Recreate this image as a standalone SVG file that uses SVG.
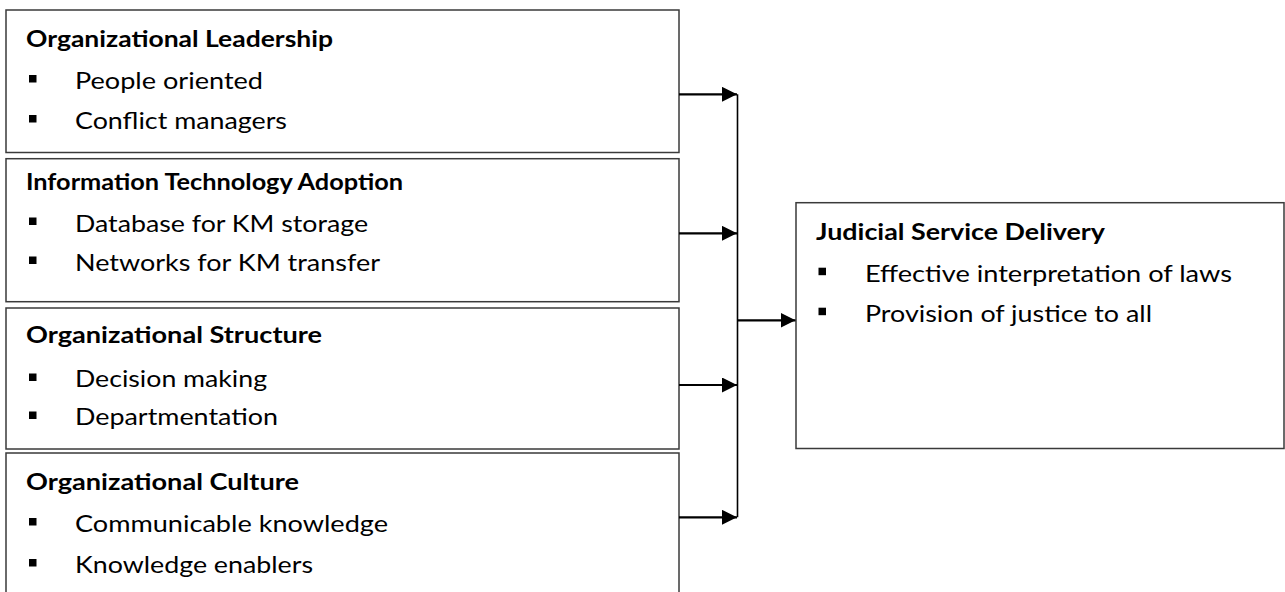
<svg xmlns="http://www.w3.org/2000/svg" width="1285" height="592" viewBox="0 0 1285 592">
<defs>
<style>
.box{fill:#fff;stroke:#3a3a3a;stroke-width:1.5}
.t{font-family:Lato,"Open Sans","Liberation Sans",sans-serif;font-size:22.5px;fill:#000}
.h{font-weight:bold}
.b{fill:#000}
.c{stroke:#000;fill:none}
</style>
<marker id="ah" markerWidth="15" markerHeight="15" refX="15" refY="7.5" orient="auto" markerUnits="userSpaceOnUse">
<path d="M0,0 L15,7.5 L0,15 Z" fill="#000"/>
</marker>
</defs>
<rect width="1285" height="592" fill="#fff"/>
<g id="n1">
<rect class="box" x="6" y="10" width="673" height="142.5"/>
<text class="t h" x="26" y="47" textLength="307" lengthAdjust="spacingAndGlyphs">Organizational Leadership</text>
<rect class="b" x="29" y="75" width="7.5" height="7.5"/>
<text class="t" x="75" y="89" textLength="188" lengthAdjust="spacingAndGlyphs">People oriented</text>
<rect class="b" x="29" y="115" width="7.5" height="7.5"/>
<text class="t" x="75" y="129" textLength="212" lengthAdjust="spacingAndGlyphs">Conflict managers</text>
</g>
<g id="n2">
<rect class="box" x="6" y="158.7" width="673" height="143"/>
<text class="t h" x="26" y="189.5" textLength="377" lengthAdjust="spacingAndGlyphs">Information Technology Adoption</text>
<rect class="b" x="29" y="217.5" width="7.5" height="7.5"/>
<text class="t" x="75" y="231.5" textLength="293" lengthAdjust="spacingAndGlyphs">Database for KM storage</text>
<rect class="b" x="29" y="256.5" width="7.5" height="7.5"/>
<text class="t" x="75" y="270.5" textLength="305" lengthAdjust="spacingAndGlyphs">Networks for KM transfer</text>
</g>
<g id="n3">
<rect class="box" x="6" y="308" width="673" height="141"/>
<text class="t h" x="26" y="343" textLength="296" lengthAdjust="spacingAndGlyphs">Organizational Structure</text>
<rect class="b" x="29" y="373.5" width="7.5" height="7.5"/>
<text class="t" x="75" y="387" textLength="192" lengthAdjust="spacingAndGlyphs">Decision making</text>
<rect class="b" x="29" y="411.5" width="7.5" height="7.5"/>
<text class="t" x="75" y="425" textLength="203" lengthAdjust="spacingAndGlyphs">Departmentation</text>
</g>
<g id="n4">
<rect class="box" x="6" y="453" width="673" height="150"/>
<text class="t h" x="26" y="490" textLength="273" lengthAdjust="spacingAndGlyphs">Organizational Culture</text>
<rect class="b" x="29" y="518" width="7.5" height="7.5"/>
<text class="t" x="75" y="532" textLength="313" lengthAdjust="spacingAndGlyphs">Communicable knowledge</text>
<rect class="b" x="29" y="559" width="7.5" height="7.5"/>
<text class="t" x="75" y="573" textLength="238" lengthAdjust="spacingAndGlyphs">Knowledge enablers</text>
</g>
<g id="n5">
<rect class="box" x="796" y="202.7" width="488" height="245.8"/>
<text class="t h" x="816" y="240" textLength="289" lengthAdjust="spacingAndGlyphs">Judicial Service Delivery</text>
<rect class="b" x="818.5" y="267.7" width="7.5" height="7.5"/>
<text class="t" x="865" y="281.7" textLength="367" lengthAdjust="spacingAndGlyphs">Effective interpretation of laws</text>
<rect class="b" x="818.5" y="307.7" width="7.5" height="7.5"/>
<text class="t" x="865" y="321.7" textLength="287" lengthAdjust="spacingAndGlyphs">Provision of justice to all</text>
</g>
<g id="connectors">
<line class="c" x1="737.5" y1="94.3" x2="737.5" y2="517.3" stroke-width="1.6"/>
<line class="c" x1="679" y1="94.3" x2="737" y2="94.3" stroke-width="2.2" marker-end="url(#ah)"/>
<line class="c" x1="679" y1="233.3" x2="737" y2="233.3" stroke-width="2.2" marker-end="url(#ah)"/>
<line class="c" x1="679" y1="385" x2="737" y2="385" stroke-width="2.2" marker-end="url(#ah)"/>
<line class="c" x1="679" y1="517.3" x2="737" y2="517.3" stroke-width="2.2" marker-end="url(#ah)"/>
<line class="c" x1="737.5" y1="320.3" x2="795.5" y2="320.3" stroke-width="2.2" marker-end="url(#ah)"/>
</g>
</svg>
